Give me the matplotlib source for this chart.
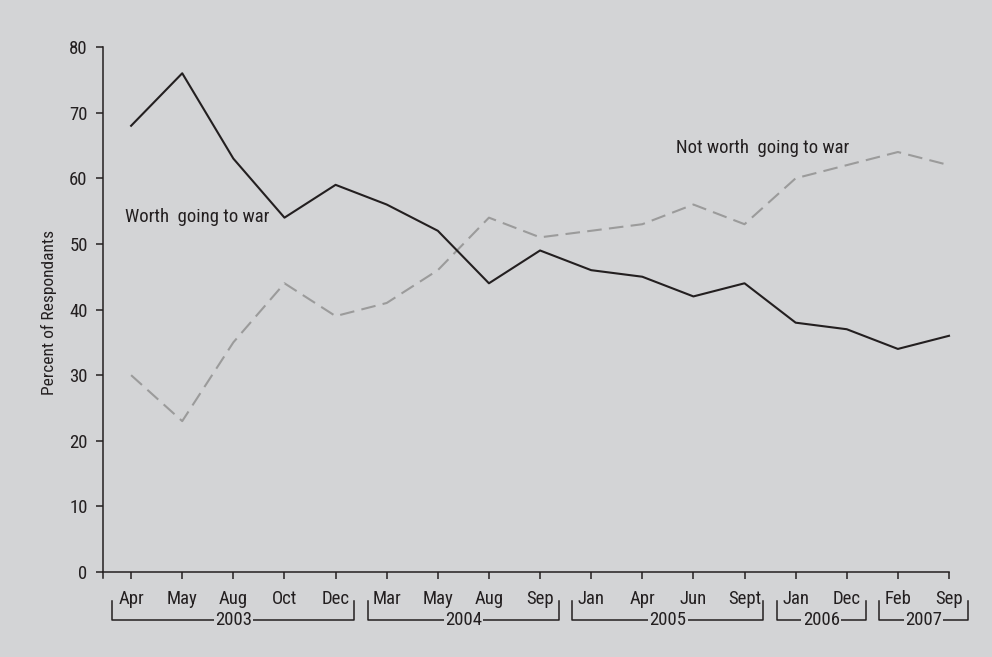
import matplotlib
matplotlib.use("Agg")
import matplotlib.pyplot as plt
import matplotlib.transforms as mtransforms

plt.rcParams['font.family'] = ['Roboto Condensed', 'DejaVu Sans']

months = ["Apr", "May", "Aug", "Oct", "Dec",
          "Mar", "May", "Aug", "Sep",
          "Jan", "Apr", "Jun", "Sept",
          "Jan", "Dec",
          "Feb", "Sep"]
years = ["2003", "2004", "2005", "2006", "2007"]
year_counts = [5, 4, 4, 2, 2]
worth = [68, 76, 63, 54, 59, 56, 52, 44, 49, 46, 45, 42, 44, 38, 37, 34, 36]
not_worth = [30, 23, 35, 44, 39, 41, 46, 54, 51, 52, 53, 56, 53, 60, 62, 64, 62]

bg = "#d3d4d6"
ink = "#231f20"
fs = 13.5

fig = plt.figure(figsize=(9.92, 6.57), dpi=100, facecolor=bg)
ax = fig.add_axes([103 / 992, (657 - 578) / 657, (949 - 103) / 992, (578 - 47) / 657])
ax.set_facecolor(bg)

x = list(range(len(months)))
ax.plot(x, worth, color=ink, lw=1.5, clip_on=False, zorder=3)
ax.plot(x, not_worth, color="#9b9b9b", lw=1.5, dashes=(7, 3.5), clip_on=False, zorder=2)

ax.set_xlim(-0.55, 16)
ax.set_ylim(-0.9, 80)

for s in ("top", "right"):
    ax.spines[s].set_visible(False)
ax.spines["left"].set_bounds(-0.9, 80)
ax.spines["bottom"].set_position(("data", 0))
for s in ("left", "bottom"):
    ax.spines[s].set_color(ink)
    ax.spines[s].set_linewidth(1.1)

ax.set_yticks(range(0, 81, 10))
ax.tick_params(axis="y", direction="out", length=5, width=1.1, color=ink,
               labelsize=fs, labelcolor=ink, pad=6)
ax.set_xticks(x)
ax.set_xticklabels(months)
ax.tick_params(axis="x", direction="out", length=5, width=1.1, color=ink,
               labelsize=fs, labelcolor=ink, pad=8)

ax.set_ylabel("Percent of Respondants", fontsize=12.5, color=ink, labelpad=9)

ax.text(-0.12, 54.1, "Worth  going to war", fontsize=fs, color=ink, va="center", ha="left")
ax.text(10.65, 64.6, "Not worth  going to war", fontsize=fs, color=ink, va="center", ha="left")

# year brackets under the month labels
trans = mtransforms.blended_transform_factory(ax.transData, ax.transAxes)
y_top, y_bot = -0.0433, -0.0791
start = 0
for yr, n in zip(years, year_counts):
    left = start - 0.37
    right = start + n - 1 + 0.37
    ax.plot([left, left, right, right], [y_top, y_bot, y_bot, y_top], color=ink,
            lw=1.1, transform=trans, clip_on=False)
    ax.text((left + right) / 2, y_bot, yr, transform=trans, ha="center", va="center",
            fontsize=fs, color=ink,
            bbox=dict(facecolor=bg, edgecolor="none", pad=1.0))
    start += n

fig.savefig("out.png", dpi=100, facecolor=bg)
